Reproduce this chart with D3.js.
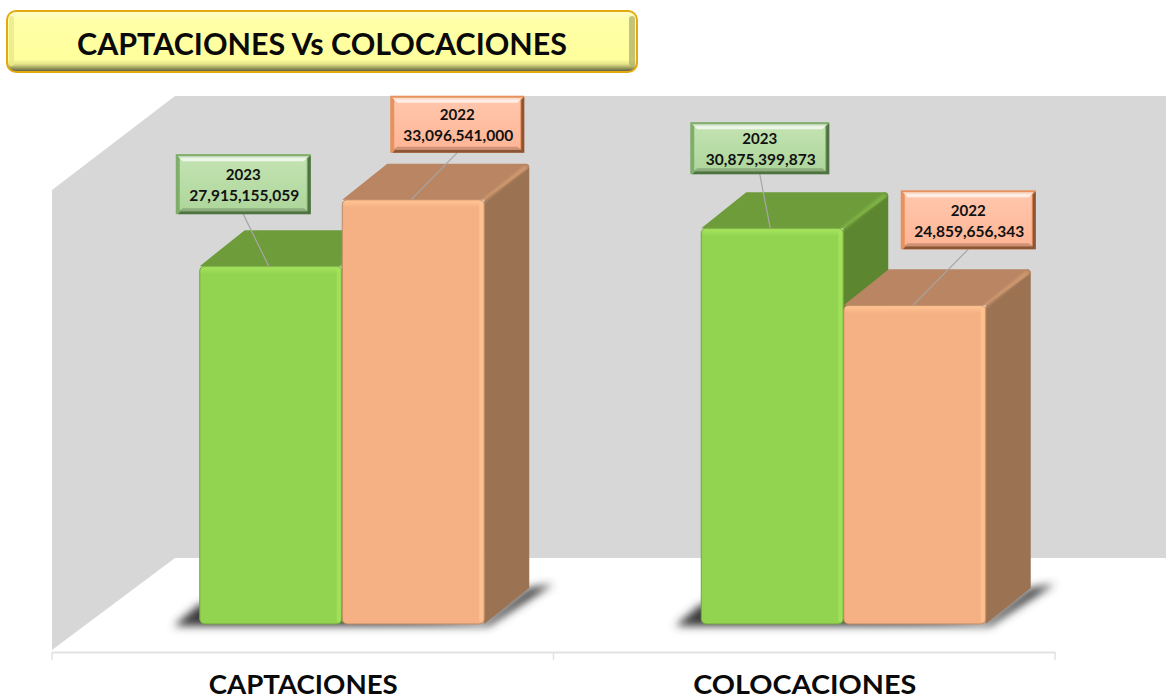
<!DOCTYPE html>
<html><head><meta charset="utf-8">
<script src="https://cdn.jsdelivr.net/npm/d3@7"></script>
<style>html,body{margin:0;padding:0;background:#fff;overflow:hidden}svg{display:block}text{font-family:Lato,"Noto Sans",sans-serif;font-weight:700}</style>
</head><body><div id="chart"></div>
<script>
const chartTitle = "CAPTACIONES Vs COLOCACIONES";
const categories = ["CAPTACIONES","COLOCACIONES"];
const years = ["2023","2022"];
const values2023 = [27915155059, 30875399873];
const values2022 = [33096541000, 24859656343];
// label-box layout: offset of the box from the top-centre of its bar
const labelOffsets2023 = [[-95,-112,135,60],[-82,-106,139,52]];
const labelOffsets2022 = [[-23,-104,134,57],[-14,-115,135,59]];

const W=1166,H=700;
const DX=45,DY=-36,BAR=142;
const svg=d3.select("#chart").append("svg").attr("width",W).attr("height",H);
const defs=svg.append("defs");
const palette={
 "2023":{front:"#92D350",hi:"#A6E45C",top:"#6E9C3B",side:"#5D8630",boxA:"#C3E3B2",boxB:"#AED69B",edge:"#7FAE6A",dark:"#4F7340"},
 "2022":{front:"#F5B183",hi:"#FFC493",top:"#B98562",side:"#9C7352",boxA:"#FFC7AD",boxB:"#FFB595",edge:"#E9915C",dark:"#8A5635"}
};
const f=defs.append("filter").attr("id","blur").attr("x","-30%").attr("y","-30%").attr("width","160%").attr("height","160%");
f.append("feGaussianBlur").attr("stdDeviation",4);
const f2=defs.append("filter").attr("id","soft").attr("x","-5%").attr("y","-5%").attr("width","110%").attr("height","110%");
f2.append("feGaussianBlur").attr("stdDeviation",1);
years.forEach(yr=>{
 const g=defs.append("linearGradient").attr("id","box"+yr).attr("x1",0).attr("x2",0).attr("y1",0).attr("y2",1);
 g.append("stop").attr("offset",0).attr("stop-color",palette[yr].boxA);
 g.append("stop").attr("offset",1).attr("stop-color",palette[yr].boxB);
 const h=defs.append("linearGradient").attr("id","edge"+yr).attr("x1",0).attr("x2",0).attr("y1",0).attr("y2",1);
 h.append("stop").attr("offset",0).attr("stop-color",palette[yr].hi);
 h.append("stop").attr("offset",1).attr("stop-color",palette[yr].front);
});
const tg=defs.append("linearGradient").attr("id","tbody").attr("x1",0).attr("x2",0).attr("y1",0).attr("y2",1);
[[0,"#FFFFC8"],[0.15,"#FFFFA8"],[0.8,"#FFFF9C"],[0.88,"#E6E68A"],[1,"#66663F"]].forEach(s=>tg.append("stop").attr("offset",s[0]).attr("stop-color",s[1]));

// wall and floor
svg.append("path").attr("d","M52,190L175,96H1166V558H175L52,650Z").attr("fill","#D7D7D7");

const x0=d3.scaleBand().domain(categories).range([52,1055]);
const y=d3.scaleLinear().domain([0,35e9]).range([624,624-12.82*35]);
const x1=d3.scaleBand().domain(years).range([0,285]);
const barX=(cat,yr)=>x0(cat)+x0.bandwidth()/2-103+x1(yr);

// axis
const axis=d3.axisBottom(x0).tickSize(0).tickFormat("");
const ag=svg.append("g").attr("transform","translate(0,652)").call(axis);
ag.select(".domain").attr("stroke","#E2E2E2").attr("stroke-width",2);
svg.selectAll(".tk").data([...categories.map(d=>x0(d)),1055]).join("line").attr("class","tk")
 .attr("x1",d=>d).attr("x2",d=>d).attr("y1",652).attr("y2",660).attr("stroke","#E2E2E2").attr("stroke-width",1.5);
svg.selectAll(".cat").data(categories).join("text").attr("class","cat")
 .attr("x",d=>x0(d)+x0.bandwidth()/2+0.5).attr("y",694).attr("text-anchor","middle")
 .attr("font-size",26).attr("fill","#0a0a0a").attr("textLength",(d,i)=>[189,223][i]).attr("lengthAdjust","spacingAndGlyphs").text(d=>d);

const rows=[];
categories.forEach((cat,i)=>{
 rows.push({cat,i,yr:"2023",v:values2023[i],o:labelOffsets2023[i]});
 rows.push({cat,i,yr:"2022",v:values2022[i],o:labelOffsets2022[i]});
});
// floor shadows
categories.forEach(cat=>{
 const a=barX(cat,"2023"),b=barX(cat,"2022")+BAR,b0=y(0);
 svg.append("path").attr("filter","url(#blur)").attr("fill","#3a3a3a")
  .attr("d",`M${a-26},${b0+2}L${a},${b0-20}L${b},${b0-2}L${b+DX},${b0-36}L${b+DX+24},${b0-40}L${b+4},${b0+2}Z`);
});
// bars, back-to-front order
rows.forEach(r=>{
 const p=palette[r.yr],x=barX(r.cat,r.yr),t=y(r.v),b=y(0),g=svg.append("g");
 g.append("path").attr("fill",p.side).attr("d",`M${x+BAR},${t}L${x+BAR+DX-4},${t+DY}Q${x+BAR+DX},${t+DY} ${x+BAR+DX},${t+DY+4}L${x+BAR+DX},${b+DY}L${x+BAR},${b}Z`);
 g.append("path").attr("fill",p.top).attr("d",`M${x},${t}L${x+DX},${t+DY}L${x+BAR+DX-4},${t+DY}Q${x+BAR+DX},${t+DY} ${x+BAR+DX},${t+DY+4}L${x+BAR},${t}Z`);
 g.append("line").attr("x1",x+BAR-2).attr("y1",t+2).attr("x2",x+BAR+DX-3).attr("y2",t+DY+3).attr("stroke",p.hi).attr("stroke-opacity",.3).attr("stroke-width",4).attr("filter","url(#soft)");
 g.append("rect").attr("x",x).attr("y",t).attr("width",BAR).attr("height",b-t).attr("rx",5).attr("fill",p.front).attr("stroke",d3.color(p.front).darker(.7)).attr("stroke-width",1);
 g.append("rect").attr("x",x+1).attr("y",t+1).attr("width",BAR-2).attr("height",7).attr("rx",3).attr("fill","url(#edge"+r.yr+")");
 g.append("rect").attr("x",x+BAR-5).attr("y",t+2).attr("width",4).attr("height",b-t-4).attr("rx",2).attr("fill",p.hi).attr("opacity",.8);
});
// labels
const fmt=d3.format(",");
rows.forEach(r=>{
 const p=palette[r.yr],cx=barX(r.cat,r.yr)+BAR/2,t=y(r.v);
 const [ox,oy,w,h]=r.o, bx=cx+ox, by=t+oy;
 const g=svg.append("g");
 g.append("line").attr("x1",bx+w/2).attr("y1",by+h).attr("x2",cx-2).attr("y2",t).attr("stroke","#A6A6A6").attr("stroke-width",1.2);
 g.append("rect").attr("x",bx).attr("y",by).attr("width",w).attr("height",h).attr("fill",p.edge);
 g.append("path").attr("fill",p.dark).attr("d",`M${bx+w},${by+1}V${by+h}H${bx+2}l3,-3H${bx+w-3}V${by+4}Z`);
 g.append("rect").attr("x",bx+4).attr("y",by+4).attr("width",w-8).attr("height",h-8).attr("fill","url(#box"+r.yr+")");
 g.append("path").attr("fill","#fff").attr("opacity",.7).attr("d",`M${bx+2},${by+2}H${bx+w-2}l-5,5H${bx+7}Z`);
 g.append("path").attr("fill",d3.color(p.boxB).darker(.6)).attr("d",`M${bx+7},${by+h-6}H${bx+w-7}l4,3H${bx+3}Z`);
 g.append("text").attr("x",bx+w/2).attr("y",by+h/2-4).attr("text-anchor","middle").attr("font-size",16).attr("fill","#111").attr("textLength",35).attr("lengthAdjust","spacingAndGlyphs").text(r.yr);
 g.append("text").attr("x",bx+w/2+1).attr("y",by+h/2+17).attr("text-anchor","middle").attr("font-size",16).attr("fill","#111").attr("textLength",110).attr("lengthAdjust","spacingAndGlyphs").text(fmt(r.v));
});
// title
const tgp=svg.append("g");
tgp.append("rect").attr("x",6).attr("y",10).attr("width",632).attr("height",63).attr("rx",10).attr("fill","#E3A90F");
tgp.append("rect").attr("x",8).attr("y",12).attr("width",628).attr("height",59).attr("rx",8).attr("fill","url(#tbody)");
tgp.append("rect").attr("x",629).attr("y",16).attr("width",6).attr("height",50).attr("rx",3).attr("fill","#A9A967").attr("opacity",.7);
tgp.append("rect").attr("x",9).attr("y",16).attr("width",5).attr("height",50).attr("rx",2).attr("fill","#E9E98C").attr("opacity",.8);
tgp.append("text").attr("x",322).attr("y",55).attr("text-anchor","middle").attr("font-size",31).attr("fill","#0a0a0a")
 .attr("textLength",490).attr("lengthAdjust","spacingAndGlyphs").text(chartTitle);
</script></body></html>
